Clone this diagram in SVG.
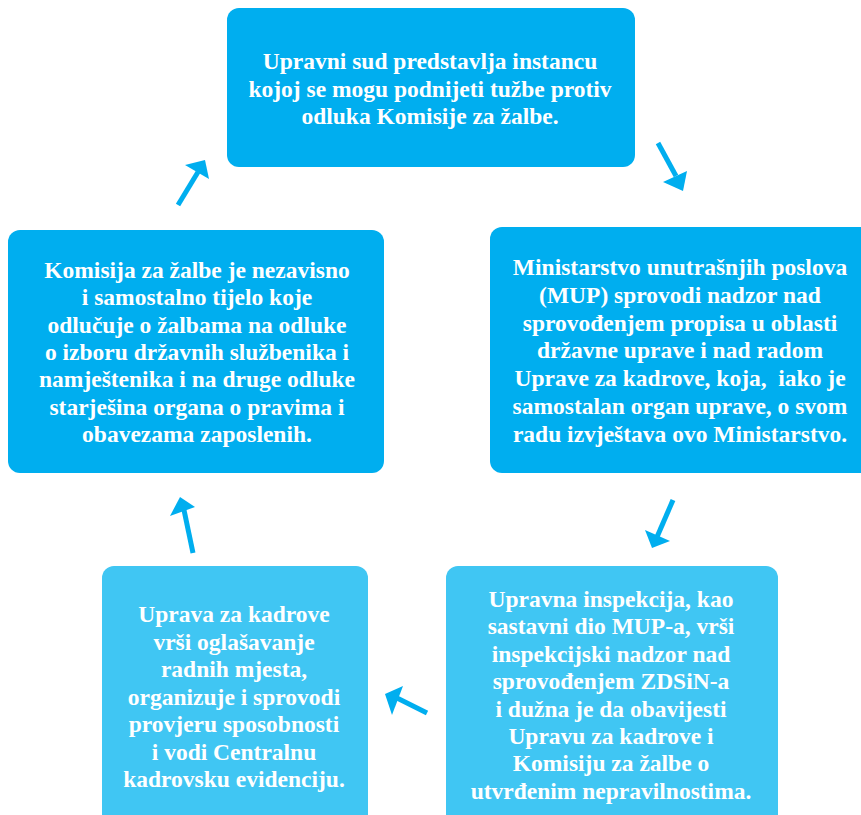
<svg xmlns="http://www.w3.org/2000/svg" width="861" height="815" viewBox="0 0 861 815">
<style>
.box1{fill:#00AEEF}
.box2{fill:#40C6F3}
.t{font-family:"Liberation Serif","DejaVu Serif",serif;font-weight:bold;font-size:23.5px;fill:#FFFFFF;text-anchor:middle;white-space:pre}
.arr{stroke:#00AEEF;stroke-width:5;fill:none}
.head{fill:#00AEEF}
</style>
<rect width="861" height="815" fill="#FFFFFF"/>
<g id="node-upravni-sud">
<rect class="box1" x="227" y="8" width="408" height="159" rx="12"/>
<text class="t"><tspan x="430" y="69">Upravni sud predstavlja instancu</tspan><tspan x="430" y="96.5">kojoj se mogu podnijeti tužbe protiv</tspan><tspan x="430" y="124">odluka Komisije za žalbe.</tspan></text>
</g>
<g id="node-mup">
<rect class="box1" x="490" y="227" width="390" height="246" rx="12"/>
<text class="t"><tspan x="680" y="275">Ministarstvo unutrašnjih poslova</tspan><tspan x="680" y="302.8">(MUP) sprovodi nadzor nad</tspan><tspan x="680" y="330.6">sprovođenjem propisa u oblasti</tspan><tspan x="680" y="358.4">državne uprave i nad radom</tspan><tspan x="680" y="386.2">Uprave za kadrove, koja,  iako je</tspan><tspan x="680" y="414">samostalan organ uprave, o svom</tspan><tspan x="680" y="442">radu izvještava ovo Ministarstvo.</tspan></text>
</g>
<g id="node-upravna-inspekcija">
<rect class="box2" x="446" y="566" width="332" height="270" rx="12"/>
<text class="t"><tspan x="611" y="607">Upravna inspekcija, kao</tspan><tspan x="611" y="634.4">sastavni dio MUP-a, vrši</tspan><tspan x="611" y="661.8">inspekcijski nadzor nad</tspan><tspan x="611" y="689.2">sprovođenjem ZDSiN-a</tspan><tspan x="611" y="716.6">i dužna je da obavijesti</tspan><tspan x="611" y="744">Upravu za kadrove i</tspan><tspan x="611" y="771.4">Komisiju za žalbe o</tspan><tspan x="611" y="799">utvrđenim nepravilnostima.</tspan></text>
</g>
<g id="node-uprava-za-kadrove">
<rect class="box2" x="102" y="566" width="266" height="270" rx="12"/>
<text class="t"><tspan x="234" y="622">Uprava za kadrove</tspan><tspan x="234" y="649.5">vrši oglašavanje</tspan><tspan x="234" y="677">radnih mjesta,</tspan><tspan x="234" y="704.5">organizuje i sprovodi</tspan><tspan x="234" y="732">provjeru sposobnosti</tspan><tspan x="234" y="759.5">i vodi Centralnu</tspan><tspan x="234" y="787">kadrovsku evidenciju.</tspan></text>
</g>
<g id="node-komisija">
<rect class="box1" x="8" y="230" width="376" height="243" rx="12"/>
<text class="t"><tspan x="197" y="278">Komisija za žalbe je nezavisno</tspan><tspan x="197" y="305.3">i samostalno tijelo koje</tspan><tspan x="197" y="332.6">odlučuje o žalbama na odluke</tspan><tspan x="197" y="360">o izboru državnih službenika i</tspan><tspan x="197" y="387.3">namještenika i na druge odluke</tspan><tspan x="197" y="414.6">starješina organa o pravima i</tspan><tspan x="197" y="442">obavezama zaposlenih.</tspan></text>
</g>
<g id="connectors">
<line class="arr" x1="658" y1="143" x2="676" y2="176"/>
<polygon class="head" points="663,182 687,171 683,191"/>
<line class="arr" x1="673" y1="500" x2="657" y2="537"/>
<polygon class="head" points="645,530 670,541 652,548"/>
<line class="arr" x1="427" y1="713" x2="397" y2="698"/>
<polygon class="head" points="403,686 392,715 385,694"/>
<line class="arr" x1="193" y1="553" x2="184" y2="510"/>
<polygon class="head" points="170,516 195,507 180,497"/>
<line class="arr" x1="178" y1="205" x2="198" y2="172"/>
<polygon class="head" points="185,165 209,179 205,160"/>
</g>
</svg>
